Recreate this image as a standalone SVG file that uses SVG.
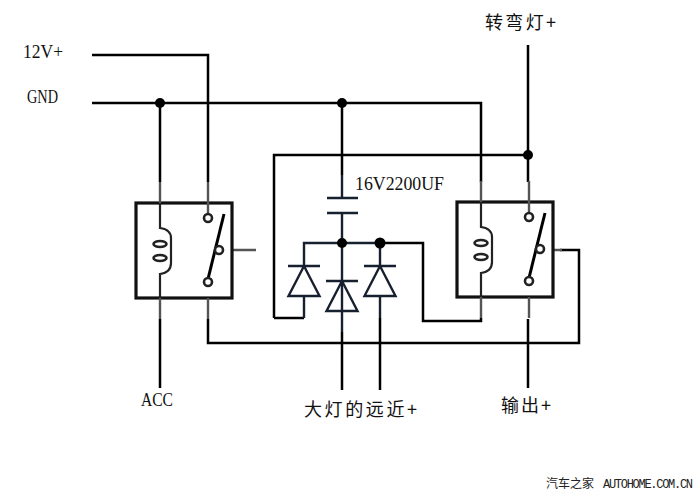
<svg xmlns="http://www.w3.org/2000/svg" width="700" height="494" viewBox="0 0 700 494">
<style>
.w{fill:none;stroke:#000;stroke-width:2.5}
.g{fill:none;stroke:#555;stroke-width:2.4}
.b{fill:none;stroke:#111;stroke-width:3.200}
.a{fill:none;stroke:#000;stroke-width:3}
.k{fill:none;stroke:#222;stroke-width:2.200}
.n{fill:none;stroke:#16202e;stroke-width:2.400}
.o{fill:#fff;stroke:#222;stroke-width:2.600}
.d{fill:#000}
.t{font-family:"Liberation Serif","Noto Sans CJK SC",serif;font-size:18px;fill:#111}
.c{font-family:"Noto Sans CJK SC","Liberation Sans",sans-serif;font-size:18px;fill:#111}
.m{font-family:"Liberation Mono","Noto Sans CJK SC",monospace;font-size:12px;fill:#222}
</style>
<rect width="700" height="494" fill="#fff"/>
<defs>
<g id="relay">
<rect x="0" y="0" width="96" height="95" class="b"/>
<path class="g" d="M24-21V0M72-21V10M24 95V116M72 95V116"/>
<path class="k" d="M24 0V25C31 26 35 29 35 35V60C35 67 31 70 24 71V95"/>
<ellipse cx="24" cy="41" rx="6.500" ry="3" class="o"/>
<ellipse cx="24" cy="55" rx="6.500" ry="3" class="o"/>
<path class="a" d="M71 80L88 11"/>
<circle cx="72" cy="15" r="4" class="o"/>
<circle cx="72" cy="79" r="4" class="o"/>
<circle cx="83" cy="47" r="4" class="o"/>
</g>
<g id="diode">
<path class="n" d="M-16 0H16M0 0L-15.500 30H15.500Z"/>
</g>
</defs>
<g id="connectors">
<path class="w" d="M92 55H208V182"/>
<path class="w" d="M92 103H481V182"/>
<path class="w" d="M160 103V182M160 319V388"/>
<path class="w" d="M208 319V343H579V250H560"/>
<path class="w" d="M528 45V182M528 319V388"/>
<path class="w" d="M274 318V155H528"/>
<path class="w" d="M274 318H304"/>
<path class="w" d="M380 243H423V321H481V318"/>
<path class="w" d="M342 332V390M380 318V390"/>
<path class="w" d="M342 103V175"/>
<path class="n" d="M342 175V198M342 213V332M304 266V243H380V266M304 296V318M380 296V318"/>
<path class="g" d="M232 250H256M553 250H562"/>
<circle class="d" cx="160" cy="103" r="5"/>
<circle class="d" cx="342" cy="103" r="5"/>
<circle class="d" cx="528" cy="155" r="5"/>
<circle class="d" cx="342" cy="243" r="5"/>
<circle class="d" cx="380" cy="243" r="5.500"/>
</g>
<g id="relay1"><use href="#relay" x="136" y="203"/></g>
<g id="relay2"><use href="#relay" x="457" y="202"/></g>
<g id="capacitor"><path class="n" d="M327 198H358M327 213H358"/></g>
<g id="diode1"><use href="#diode" x="304" y="266"/></g>
<g id="diode2"><use href="#diode" x="342" y="281"/></g>
<g id="diode3"><use href="#diode" x="380" y="266"/></g>
<g id="labels">
<text class="t" x="23" y="58" textLength="40" lengthAdjust="spacingAndGlyphs">12V+</text>
<text class="t" x="27" y="103" textLength="31" lengthAdjust="spacingAndGlyphs">GND</text>
<text class="t" x="355" y="190" textLength="89" lengthAdjust="spacingAndGlyphs">16V2200UF</text>
<text class="t" x="141" y="406" textLength="32" lengthAdjust="spacingAndGlyphs">ACC</text>
<text class="c" x="485" y="29" textLength="71">转弯灯+</text>
<text class="c" x="304" y="416" textLength="113">大灯的远近+</text>
<text class="c" x="501" y="412" textLength="50">输出+</text>
<text class="m" x="546" y="488" textLength="48">汽车之家</text>
<text class="m" x="603" y="488" textLength="90" font-size="11">AUTOHOME.COM.CN</text>
</g>
</svg>
